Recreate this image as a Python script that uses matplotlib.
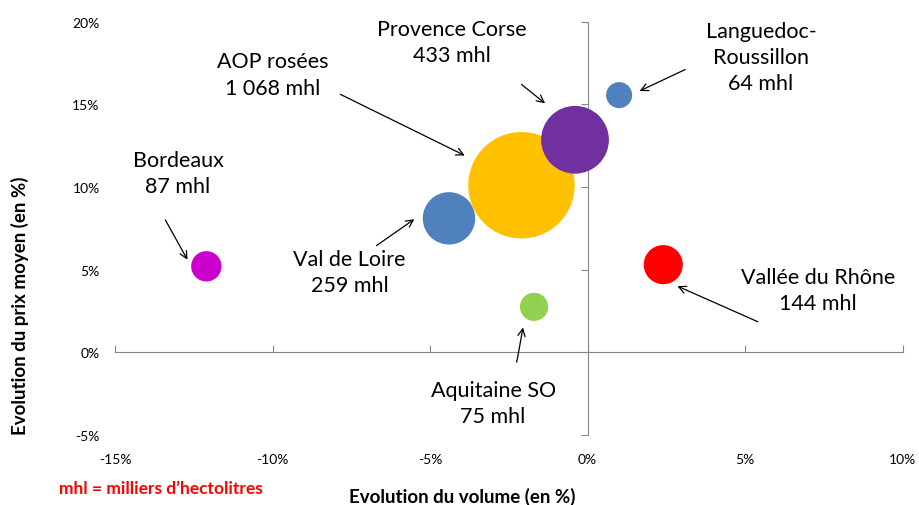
import matplotlib
matplotlib.use("Agg")
import matplotlib.pyplot as plt
from matplotlib.ticker import PercentFormatter

plt.rcParams['font.family'] = ['Lato', 'DejaVu Sans']
plt.rcParams['axes.unicode_minus'] = False

regions = ["Bordeaux", "Val de Loire", "AOP rosées", "Provence Corse",
           "Languedoc-\nRoussillon", "Vallée du Rhône", "Aquitaine SO"]
volumes = ["87", "259", "1 068", "433", "64", "144", "75"]
mhl = [87, 259, 1068, 433, 64, 144, 75]
vol_change = [-12.1, -4.4, -2.1, -0.4, 1.0, 2.4, -1.7]
price_change = [5.2, 8.1, 10.1, 12.85, 15.55, 5.3, 2.75]
colors = ["#CC00CC", "#4F81BD", "#FFC000", "#7030A0", "#4F81BD", "#FF0000", "#92D050"]

# label centres and arrows (tail -> head), in data units
label_xy = [(-13.0, 10.85), (-7.55, 4.85), (-10.0, 16.8), (-4.3, 18.75),
            (5.5, 17.85), (7.3, 3.75), (-3.0, -3.05)]
arrows = [((-13.4, 8.0), (-12.7, 5.6)),
          ((-6.7, 6.45), (-5.5, 8.05)),
          ((-7.85, 15.6), (-3.9, 11.9)),
          ((-2.1, 16.2), (-1.35, 15.05)),
          ((3.1, 17.1), (1.65, 15.8)),
          ((5.4, 1.85), (2.85, 4.0)),
          ((-2.25, -0.6), (-2.05, 1.5))]

fig = plt.figure(figsize=(9.19, 5.06), dpi=100)
ax = fig.add_axes([0.1251, 0.1383, 0.8572, 0.8172])
ax.set_xlim(-15, 10)
ax.set_ylim(-5, 20)

for x, y, v, c in zip(vol_change, price_change, mhl, colors):
    ax.scatter(x, y, s=5.5 * v, color=c, edgecolors="none", zorder=3)

for (lx, ly), name, vol in zip(label_xy, regions, volumes):
    ax.text(lx, ly, f"{name}\n{vol} mhl", ha="center", va="center",
            fontsize=15.5, linespacing=1.4, zorder=4)

for tail, head in arrows:
    ax.annotate("", xy=head, xytext=tail,
                arrowprops=dict(arrowstyle="->", lw=0.9, color="black",
                                mutation_scale=13, shrinkA=0, shrinkB=0))

# main axes: only the labels at the edges
for s in ax.spines.values():
    s.set_visible(False)
ax.set_xticks([-15, -10, -5, 0, 5, 10])
ax.set_yticks([-5, 0, 5, 10, 15, 20])
ax.xaxis.set_major_formatter(PercentFormatter(decimals=0))
ax.yaxis.set_major_formatter(PercentFormatter(decimals=0))
ax.tick_params(axis="x", length=0, pad=13, labelsize=10)
ax.tick_params(axis="y", length=0, pad=11, labelsize=10)

# axis lines crossing at zero
sx = ax.secondary_xaxis(0.2)
sx.set_xticks([-15, -10, -5, 0, 5, 10])
sx.set_xticklabels([])
sx.xaxis.set_ticks_position("bottom")
sx.tick_params(direction="in", length=5, color="#868686")
for s in sx.spines.values():
    s.set_color("#868686")

sy = ax.secondary_yaxis(0.6)
sy.set_yticks([-5, 0, 5, 10, 15, 20])
sy.set_yticklabels([])
sy.yaxis.set_ticks_position("left")
sy.tick_params(direction="out", length=5, color="#868686")
for s in sy.spines.values():
    s.set_color("#868686")

fig.text(20 / 919, 1 - 306 / 506, "Evolution du prix moyen (en %)", rotation=90,
         ha="center", va="center", fontsize=13.5, fontweight="bold")
fig.text(462 / 919, 1 - 497 / 506, "Evolution du volume (en %)",
         ha="center", va="center", fontsize=13.5, fontweight="bold")
fig.text(59 / 919, 1 - 489 / 506, "mhl = milliers d’hectolitres", color="red",
         ha="left", va="center", fontsize=12.5, fontweight="bold")

fig.savefig("out.png", dpi=100)
